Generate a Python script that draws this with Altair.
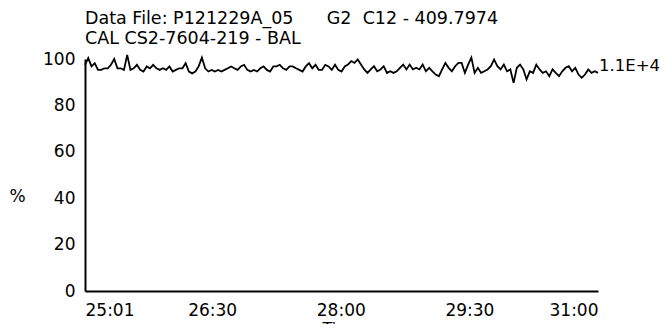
import altair as alt
import pandas as pd
import numpy as np

NB = "\u00a0"
title_lines = [
    "Data File: P121229A_05" + NB * 6 + "G2" + NB * 2 + "C12 - 409.7974",
    "CAL CS2-7604-219 - BAL",
]

# % values, left to right
seg1 = [97.5, 100.4, 96.8, 98.2, 95.3, 95.3, 96.0, 96.0, 97.5, 100.0, 96.0, 96.0,
        95.3, 101.8, 95.3, 96.0, 97.5, 95.3, 94.6, 96.8, 96.0, 97.5, 96.0, 95.3,
        96.0, 95.3, 96.8, 94.6, 95.3, 96.0, 96.0, 98.2, 94.6, 93.8, 94.6, 96.8,
        100.6, 96.0, 94.6, 95.3, 94.6, 95.3, 94.6]
seg2 = [95.3, 96.0, 96.8, 96.0, 95.3, 96.8, 97.5, 95.3, 94.6, 95.3, 94.6, 96.0,
        96.8, 95.3, 94.6, 96.8, 96.8, 97.5, 96.0, 95.3, 96.8, 96.8, 96.0, 95.3,
        94.6, 96.8, 98.2, 96.0, 97.5, 95.3, 95.3, 97.5, 96.8, 95.3, 97.5, 95.3,
        94.6, 96.8]
seg3 = [97.6, 99.1, 98.3, 99.8, 97.6, 95.5, 94.0, 95.5, 96.9, 94.7, 95.5, 96.9,
        94.0, 94.7, 94.0, 94.7, 96.2, 97.6, 95.5, 97.6, 95.5, 96.2, 95.5, 97.6,
        94.7, 96.2, 94.7, 93.3, 92.6, 95.5, 98.3, 96.2, 94.7, 96.9, 98.3, 98.3,
        94.0, 97.6, 100.6, 94.0, 96.2, 94.0, 94.7, 95.5, 96.9, 99.8, 96.9, 95.5,
        97.6, 94.7, 95.5, 89.7, 96.2, 97.6, 95.5, 91.2, 94.7, 94.0, 97.6, 95.5,
        94.0, 94.7, 92.6, 95.5, 94.0, 92.6, 94.7, 96.2, 96.9, 94.7, 96.2, 93.3,
        91.9, 93.3, 95.5, 94.0, 94.7, 94.0]
values = seg1 + seg2 + seg3

t_start = 25 + 1 / 60   # 25:01
t_end = 31.0            # 31:00
tick_values = [t_start, 26.5, 28.0, 29.5, 31.0]
y_ticks = [0, 20, 40, 60, 80, 100]
end_label = "1.1E+4"
end_label_level = 96.9

times = np.linspace(t_start, t_end, len(values))
df = pd.DataFrame({"t": times, "pct": values})
lab = pd.DataFrame({"t": [t_end], "pct": [end_label_level], "txt": [end_label]})

FONT = "DejaVu Sans"
FS = 17

x_enc = alt.X(
    "t:Q",
    scale=alt.Scale(domain=[t_start, t_end], nice=False, zero=False),
    axis=alt.Axis(
        values=tick_values,
        labelExpr="floor(datum.value) + ':' + pad(round((datum.value - floor(datum.value)) * 60) + '', 2, '0', 'left')",
        title="Time",
        titleBaseline="top",
        titleY=29,
        titleFontWeight="normal",
        titleFontSize=16,
        ticks=False,
        grid=False,
        labelPadding=11,
        labelFontSize=FS,
        labelOverlap=False,
        domainColor="black",
        domainWidth=2,
        labelColor="black",
        titleColor="black",
    ),
)
y_enc = alt.Y(
    "pct:Q",
    scale=alt.Scale(domain=[0, 100], nice=False, zero=False),
    axis=alt.Axis(
        values=y_ticks,
        title="%",
        titleAngle=0,
        titleX=-68,
        titleY=137,
        titleAlign="center",
        titleBaseline="middle",
        titleFontWeight="normal",
        titleFontSize=FS,
        ticks=False,
        grid=False,
        labelPadding=10,
        labelFontSize=FS,
        domainColor="black",
        domainWidth=2,
        labelColor="black",
        titleColor="black",
    ),
)

line = alt.Chart(df).mark_line(color="black", strokeWidth=1.8, clip=False).encode(x=x_enc, y=y_enc)
txt = alt.Chart(lab).mark_text(align="left", baseline="middle", dx=1, fontSize=16.5,
                               font=FONT, color="black").encode(x="t:Q", y="pct:Q", text="txt:N")

chart = (
    alt.layer(line, txt)
    .properties(
        width=513,
        height=232,
        padding={"left": 77, "top": 51, "right": 62, "bottom": 33},
        autosize=alt.AutoSizeParams(type="none"),
        title=alt.TitleParams(
            text=title_lines,
            anchor="start",
            frame="group",
            fontSize=17.5,
            fontWeight="normal",
            lineHeight=19.5,
            offset=3,
            font=FONT,
            color="black",
        ),
    )
    .configure(font=FONT)
    .configure_view(stroke=None)
    .configure_axis(labelFont=FONT, titleFont=FONT)
)

chart.save("out.html", embed_options={"renderer": "svg", "actions": False})
